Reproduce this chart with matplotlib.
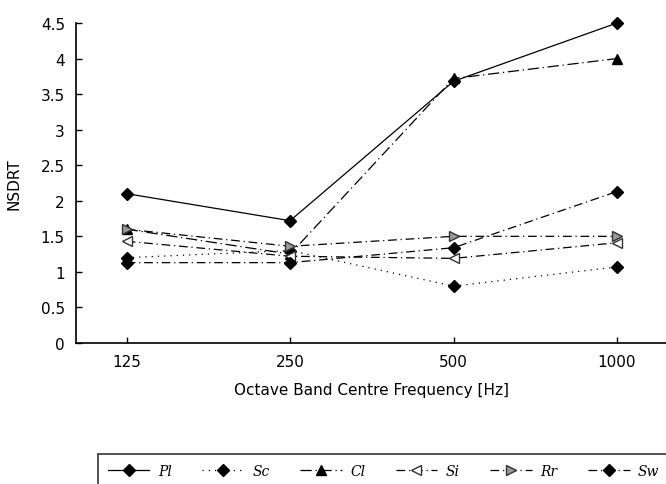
import matplotlib
matplotlib.use("Agg")
import matplotlib.pyplot as plt
from matplotlib.ticker import FixedLocator, NullLocator, FixedFormatter

freqs = [125, 250, 500, 1000]
freq_labels = ["125", "250", "500", "1000"]
series_names = ["Pl", "Sc", "Cl", "Si", "Rr", "Sw"]
pl = [2.10, 1.72, 3.68, 4.50]
sc = [1.20, 1.30, 0.80, 1.07]
cl = [1.60, 1.25, 3.72, 4.00]
si = [1.43, 1.22, 1.19, 1.41]
rr = [1.60, 1.36, 1.50, 1.50]
sw = [1.13, 1.13, 1.34, 2.13]
yticks = [0, 0.5, 1, 1.5, 2, 2.5, 3, 3.5, 4, 4.5]
ytick_labels = ["0", "0.5", "1", "1.5", "2", "2.5", "3", "3.5", "4", "4.5"]

fig = plt.figure(figsize=(6.66, 4.85), dpi=100)
ax = fig.add_axes([76/666, 1-344/485, 1-76/666, (344-24)/485])

styles = [
    dict(data=pl, ls="-", marker="D", mfc="black", mec="black"),
    dict(data=sc, ls=(0, (1, 4)), marker="D", mfc="black", mec="black"),
    dict(data=cl, ls=(0, (9, 3, 1, 3)), marker="^", mfc="black", mec="black"),
    dict(data=si, ls=(0, (7, 3, 1, 3)), marker="<", mfc="white", mec="#333333"),
    dict(data=rr, ls=(0, (7, 3, 1, 3)), marker=">", mfc="#999999", mec="#333333"),
    dict(data=sw, ls=(0, (7, 3, 1, 3)), marker="D", mfc="black", mec="black"),
]
handles = []
for name, st in zip(series_names, styles):
    h, = ax.plot(freqs, st["data"], color="black", lw=0.9, linestyle=st["ls"],
                 marker=st["marker"], ms=6.5 if st["marker"] == "D" else 7,
                 mfc=st["mfc"], mec=st["mec"], mew=1.0, label=name, clip_on=False)
    handles.append(h)

ax.set_xscale("log", base=2)
ax.set_xlim(125 * 2 ** -0.31, 1000 * 2 ** 0.30)
ax.xaxis.set_major_locator(FixedLocator(freqs))
ax.xaxis.set_major_formatter(FixedFormatter(freq_labels))
ax.xaxis.set_minor_locator(NullLocator())
ax.set_ylim(0, 4.5)
ax.set_yticks(yticks)
ax.set_yticklabels(ytick_labels)

for s in ["top", "right"]:
    ax.spines[s].set_visible(False)
for s in ["left", "bottom"]:
    ax.spines[s].set_linewidth(1.2)
ax.tick_params(direction="in", length=4, width=1, labelsize=11, pad=8)
for lab in ax.get_xticklabels() + ax.get_yticklabels():
    lab.set_fontfamily("DejaVu Sans")

ax.set_xlabel("Octave Band Centre Frequency [Hz]", fontsize=11,
              family="DejaVu Sans", labelpad=9)
ax.set_ylabel("NSDRT", fontsize=11, family="DejaVu Sans", labelpad=14)

leg = fig.legend(handles, series_names, ncol=6, loc="upper left",
                 bbox_to_anchor=(98/666, 1-455/485), borderaxespad=0,
                 frameon=True, fancybox=False,
                 edgecolor="#333333", framealpha=1, handlelength=3.0,
                 columnspacing=2.2, handletextpad=0.6, borderpad=0.7,
                 prop=dict(family="DejaVu Serif", style="italic", size=10))
leg.get_frame().set_linewidth(1.2)

fig.savefig("out.png", dpi=100)
